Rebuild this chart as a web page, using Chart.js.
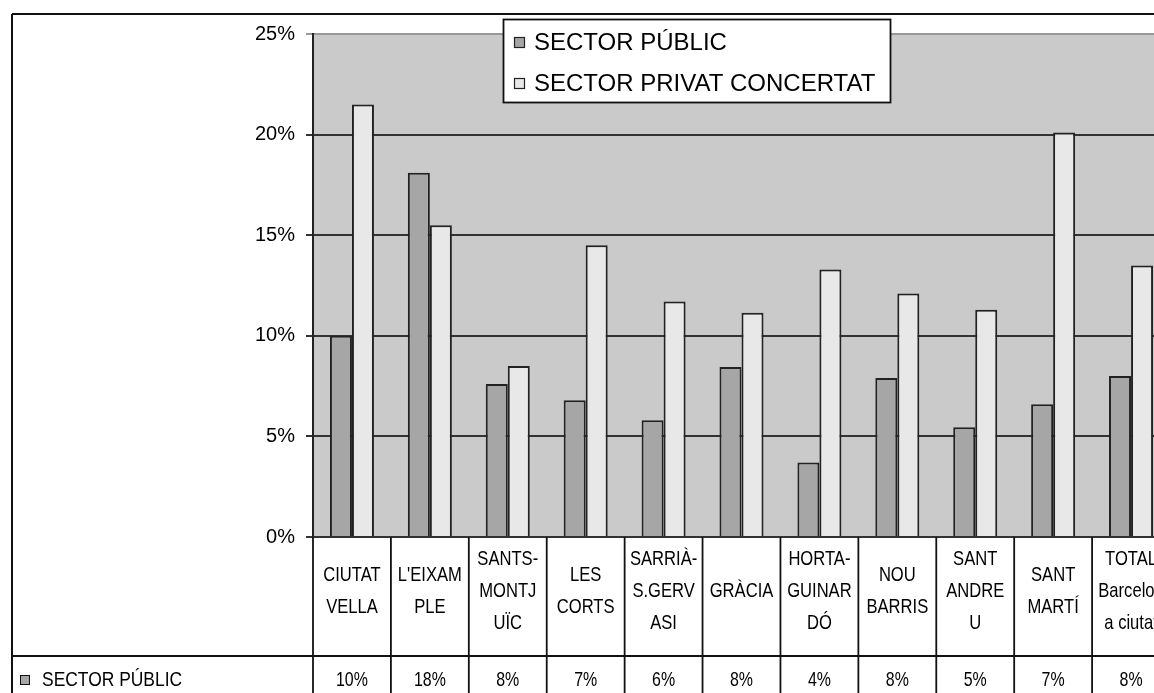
<!DOCTYPE html>
<html>
<head>
<meta charset="utf-8">
<script src="https://cdn.jsdelivr.net/npm/chart.js@4.4.1/dist/chart.umd.min.js"></script>
<style>
body { margin: 0; overflow: hidden; background: #fff; }
#wrap { position: absolute; left: 0; top: 0; width: 1154px; height: 693px; overflow: hidden; }
</style>
</head>
<body>
<div id="wrap"><canvas id="myChart" width="1180" height="693"></canvas></div>
<script>
// categories, as they wrap in the data table cells
var districts = [
    ['CIUTAT', 'VELLA'],
    ["L'EIXAM", 'PLE'],
    ['SANTS-', 'MONTJ', 'UÏC'],
    ['LES', 'CORTS'],
    ['SARRIÀ-', 'S.GERV', 'ASI'],
    ['GRÀCIA'],
    ['HORTA-', 'GUINAR', 'DÓ'],
    ['NOU', 'BARRIS'],
    ['SANT', 'ANDRE', 'U'],
    ['SANT', 'MARTÍ'],
    ['TOTAL', 'Barcelon', 'a ciutat']
];
var seriesNames = ['SECTOR PÚBLIC', 'SECTOR PRIVAT CONCERTAT'];
var publicValues = [10.0, 18.1, 7.6, 6.8, 5.8, 8.45, 3.7, 7.9, 5.45, 6.6, 8.0];
var privateValues = [21.5, 15.5, 8.5, 14.5, 11.7, 11.15, 13.3, 12.1, 11.3, 20.1, 13.5];

colour = ['#a6a6a6', '#e8e8e8'];
var FONT = '"Liberation Sans", Arial, sans-serif';

function Line(ctx, x1, y1, x2, y2){
    ctx.beginPath();
    ctx.moveTo(x1, y1);
    ctx.lineTo(x2, y2);
    ctx.stroke();
}

// Excel squeezes the table text horizontally
function NarrowText(ctx, text, x, y, sx){
    ctx.save();
    ctx.translate(x, y);
    ctx.scale(sx, 1);
    ctx.fillText(text, 0, 0);
    ctx.restore();
}

var plotBg = {
    id: 'plotBg',
    beforeDraw: function(chart){
        var ctx = chart.ctx, a = chart.chartArea;
        ctx.save();
        ctx.fillStyle = '#fff';
        ctx.fillRect(0, 0, chart.width, chart.height);
        ctx.fillStyle = '#cacaca';
        ctx.fillRect(a.left, a.top, a.right - a.left, a.bottom - a.top);
        ctx.restore();
    }
};

var dataTable = {
    id: 'dataTable',
    afterDraw: function(chart){
        var ctx = chart.ctx, a = chart.chartArea, xs = chart.scales.x;
        var n = districts.length;
        var w = (a.right - a.left) / n;
        var rowSplit = a.bottom + 119;
        var bottom = chart.height;
        ctx.save();
        ctx.strokeStyle = '#111';
        ctx.lineWidth = 1.8;
        Line(ctx, 12, rowSplit, a.right, rowSplit);
        for (var i = 0; i <= n; i++){
            var x = a.left + i * w;
            Line(ctx, x, a.bottom, x, bottom);
        }
        ctx.fillStyle = '#000';
        ctx.textAlign = 'center';
        ctx.textBaseline = 'middle';
        ctx.font = '21px ' + FONT;
        for (var i = 0; i < n; i++){
            var cx = xs.getPixelForValue(i);
            var lines = districts[i];
            var y0 = a.bottom + 54 - (lines.length - 1) * 16;
            for (var j = 0; j < lines.length; j++){
                NarrowText(ctx, lines[j], cx, y0 + j * 32, 0.79);
            }
            NarrowText(ctx, Math.round(publicValues[i]) + '%', cx, rowSplit + 24, 0.76);
        }
        // row header
        ctx.fillStyle = colour[0];
        ctx.fillRect(20, rowSplit + 19, 10, 10);
        ctx.lineWidth = 1;
        ctx.strokeRect(20.5, rowSplit + 19.5, 9, 9);
        ctx.fillStyle = '#000';
        ctx.textAlign = 'left';
        ctx.font = '21px ' + FONT;
        NarrowText(ctx, seriesNames[0], 42, rowSplit + 24, 0.83);
        // outer frame
        ctx.lineWidth = 2;
        Line(ctx, 12, 14, chart.width, 14);
        Line(ctx, 12, 14, 12, bottom);
        // legend
        ctx.fillStyle = '#fff';
        ctx.fillRect(503, 19, 387, 83);
        ctx.lineWidth = 1.8;
        ctx.strokeRect(503.5, 19.5, 387, 83);
        ctx.font = '24px ' + FONT;
        for (var k = 0; k < seriesNames.length; k++){
            var ly = 42 + k * 41;
            ctx.fillStyle = colour[k];
            ctx.fillRect(514, ly - 5, 11, 11);
            ctx.lineWidth = 1.2;
            ctx.strokeStyle = '#222';
            ctx.strokeRect(514.5, ly - 4.5, 10, 10);
            ctx.fillStyle = '#000';
            ctx.fillText(seriesNames[k], 534, ly + 1);
        }
        ctx.restore();
    }
};

var ctx = document.getElementById('myChart').getContext('2d');
var myChart = new Chart(ctx, {
    type: 'bar',
    data: {
        labels: districts.map(function(d){ return d.join(' '); }),
        datasets: [
            {
                label: seriesNames[0],
                data: publicValues,
                backgroundColor: colour[0],
                borderColor: '#222',
                borderWidth: 2
            },
            {
                label: seriesNames[1],
                data: privateValues,
                backgroundColor: colour[1],
                borderColor: '#222',
                borderWidth: 2
            }
        ]
    },
    options: {
        responsive: false,
        animation: false,
        categoryPercentage: 0.565,
        barPercentage: 1.0,
        layout: {
            padding: { left: 253, top: 34, right: 10, bottom: 156 }
        },
        scales: {
            x: {
                display: false
            },
            y: {
                min: 0,
                max: 25,
                afterFit: function(scale){ scale.width = 60; },
                ticks: {
                    stepSize: 5,
                    padding: 11,
                    color: '#000',
                    font: { family: FONT, size: 20 },
                    callback: function(v){ return v + '%'; }
                },
                grid: {
                    color: function(c){ return c.tick && c.tick.value === 25 ? '#999' : '#333'; },
                    lineWidth: 2,
                    tickLength: 7
                },
                border: { color: '#222', width: 2 }
            }
        },
        plugins: {
            legend: { display: false },
            tooltip: { enabled: false }
        }
    },
    plugins: [plotBg, dataTable]
});
</script>
</body>
</html>
